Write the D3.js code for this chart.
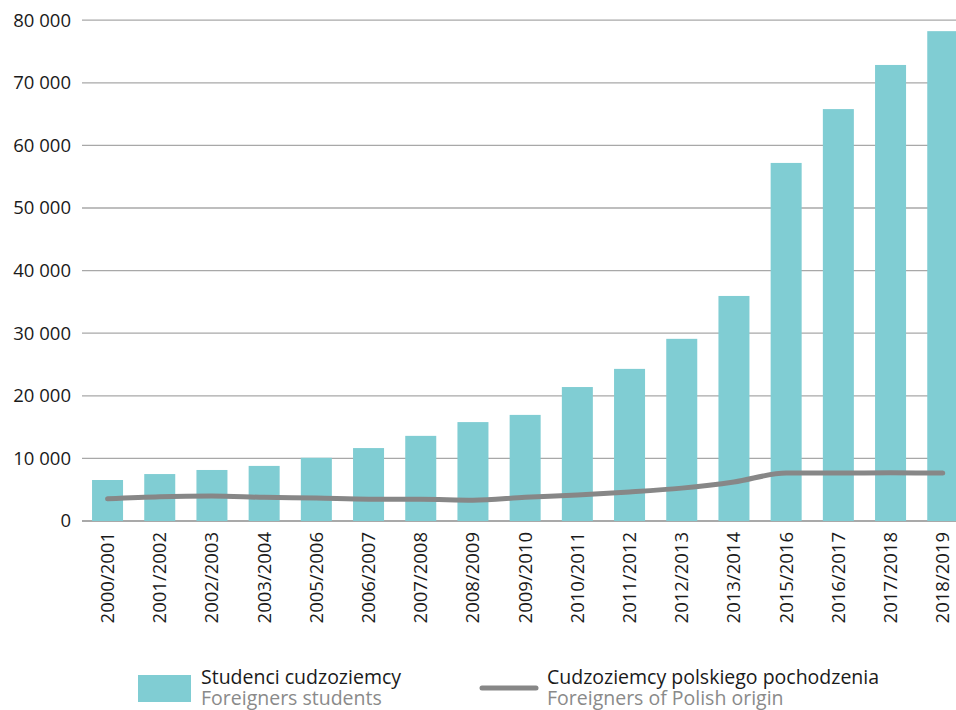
<!DOCTYPE html>
<html><head><meta charset="utf-8">
<script src="https://cdn.jsdelivr.net/npm/d3@7"></script>
<style>
html,body{margin:0;padding:0;background:#fff;}
svg{display:block;font-family:"Open Sans",sans-serif;}
</style></head>
<body>
<svg id="chart" width="956" height="710"></svg>
<script>
const categories = ["2000/2001","2001/2002","2002/2003","2003/2004","2005/2006","2006/2007","2007/2008","2008/2009","2009/2010","2010/2011","2011/2012","2012/2013","2013/2014","2015/2016","2016/2017","2017/2018","2018/2019"];
const foreignStudents = [6550,7500,8150,8800,10100,11650,13600,15800,16950,21400,24300,29100,35950,57200,65800,72850,78250];
const polishOrigin = [3550,3880,3990,3780,3670,3480,3480,3330,3780,4150,4630,5250,6230,7650,7650,7700,7650];
const yTicks = [0,10000,20000,30000,40000,50000,60000,70000,80000];
const legendLabels = [["Studenci cudzoziemcy","Foreigners students"],["Cudzoziemcy polskiego pochodzenia","Foreigners of Polish origin"]];

const svg = d3.select("#chart");
const W = 956;
const barColor = "#80cdd3", lineColor = "#878787";

const y = d3.scaleLinear().domain([0,80000]).range([521,20.2]);
const x = d3.scaleBand().domain(categories).range([81.6,968.7]).paddingInner(0.406).paddingOuter(0.2);

const fmt = v => d3.format(",")(v).replace(/,/g," ");

// gridlines
svg.append("g").selectAll("line").data(yTicks).join("line")
  .attr("x1",82).attr("x2",W)
  .attr("y1",d=>y(d)).attr("y2",d=>y(d))
  .attr("stroke",d=>d===0?"#8c8c8c":"#a8a8a8").attr("stroke-width",d=>d===0?1.6:1.3);

// y labels
svg.append("g").selectAll("text").data(yTicks).join("text")
  .attr("x",71).attr("y",d=>y(d)).attr("dy","0.35em")
  .attr("text-anchor","end").attr("font-size",18.5).attr("fill","#1a1a1a")
  .text(fmt);

// bars
svg.append("g").selectAll("rect").data(categories).join("rect")
  .attr("x",d=>x(d)).attr("width",x.bandwidth())
  .attr("y",(d,i)=>y(foreignStudents[i]))
  .attr("height",(d,i)=>y(0)-y(foreignStudents[i]))
  .attr("fill",barColor);

// line
const line = d3.line().x((d,i)=>x(categories[i])+x.bandwidth()/2).y(d=>y(d)).curve(d3.curveMonotoneX);
svg.append("path").datum(polishOrigin).attr("d",line)
  .attr("fill","none").attr("stroke",lineColor).attr("stroke-width",5)
  .attr("stroke-linecap","round").attr("stroke-linejoin","round");

// x labels
svg.append("g").selectAll("text").data(categories).join("text")
  .attr("transform",d=>`translate(${x(d)+x.bandwidth()/2+6.5},532) rotate(-90)`)
  .attr("text-anchor","end").attr("font-size",18.5).attr("fill","#1a1a1a")
  .text(d=>d);

// legend
const lg = svg.append("g");
lg.append("rect").attr("x",138).attr("y",675).attr("width",53).attr("height",27).attr("fill",barColor);
lg.append("text").attr("x",201).attr("y",684).attr("font-size",19.5).attr("fill","#1a1a1a").text(legendLabels[0][0]);
lg.append("text").attr("x",201).attr("y",705).attr("font-size",19.5).attr("fill","#8a8a8a").text(legendLabels[0][1]);
lg.append("line").attr("x1",482).attr("x2",536).attr("y1",688).attr("y2",688)
  .attr("stroke",lineColor).attr("stroke-width",5).attr("stroke-linecap","round");
lg.append("text").attr("x",547).attr("y",684).attr("font-size",19.5).attr("fill","#1a1a1a").text(legendLabels[1][0]);
lg.append("text").attr("x",547).attr("y",705).attr("font-size",19.5).attr("fill","#8a8a8a").text(legendLabels[1][1]);
</script>
</body></html>
